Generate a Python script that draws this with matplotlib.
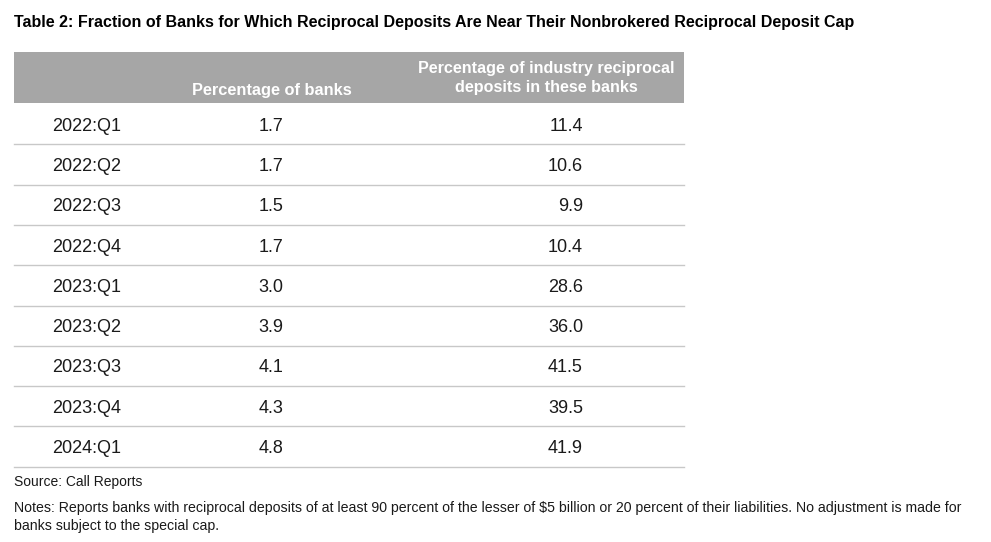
import matplotlib.pyplot as plt

plt.rcParams["font.family"] = "Liberation Sans"

TITLE = "Table 2: Fraction of Banks for Which Reciprocal Deposits Are Near Their Nonbrokered Reciprocal Deposit Cap"
quarters = ["2022:Q1", "2022:Q2", "2022:Q3", "2022:Q4", "2023:Q1",
            "2023:Q2", "2023:Q3", "2023:Q4", "2024:Q1"]
pct_banks = [1.7, 1.7, 1.5, 1.7, 3.0, 3.9, 4.1, 4.3, 4.8]
pct_deposits = [11.4, 10.6, 9.9, 10.4, 28.6, 36.0, 41.5, 39.5, 41.9]
col_headers = ["Percentage of banks", "Percentage of industry reciprocal\ndeposits in these banks"]
SOURCE = "Source: Call Reports"
NOTES = ("Notes: Reports banks with reciprocal deposits of at least 90 percent of the lesser of $5 billion or 20 percent of their liabilities. No adjustment is made for\n"
         "banks subject to the special cap.")

W, H = 991, 542
fig = plt.figure(figsize=(W / 100, H / 100), dpi=100)
ax = fig.add_axes([0, 0, 1, 1])
ax.set_xlim(0, W)
ax.set_ylim(H, 0)
ax.axis("off")

text_color = "#1a1a1a"
ax.text(14, 22, TITLE, fontsize=11.5, fontweight="bold", va="center", ha="left", color="black")

# header band
left, right = 14, 684
ax.add_patch(plt.Rectangle((left, 52), right - left, 51, color="#a6a6a6", lw=0))
ax.text(272, 90, col_headers[0], fontsize=11.8, fontweight="bold", color="white", ha="center", va="center")
ax.text(546, 78, col_headers[1], fontsize=11.6, fontweight="bold", color="white", ha="center", va="center",
        linespacing=1.35)

top, row_h = 104, 40.3
for i, (q, b, d) in enumerate(zip(quarters, pct_banks, pct_deposits)):
    yc = top + row_h * (i + 0.55)
    ax.text(52, yc, q, fontsize=13, ha="left", va="center", color=text_color)
    ax.text(271, yc, f"{b:.1f}", fontsize=13, ha="center", va="center", color=text_color)
    ax.text(583, yc, f"{d:.1f}", fontsize=13, ha="right", va="center", color=text_color)
    ax.plot([left, right], [top + row_h * (i + 1)] * 2, color="#c8c8c8", lw=1)

ax.text(14, 482, SOURCE, fontsize=10, ha="left", va="center", color=text_color)
ax.text(14, 517, NOTES, fontsize=10.15, ha="left", va="center", color=text_color, linespacing=1.3)

fig.savefig("out.png", dpi=100)
